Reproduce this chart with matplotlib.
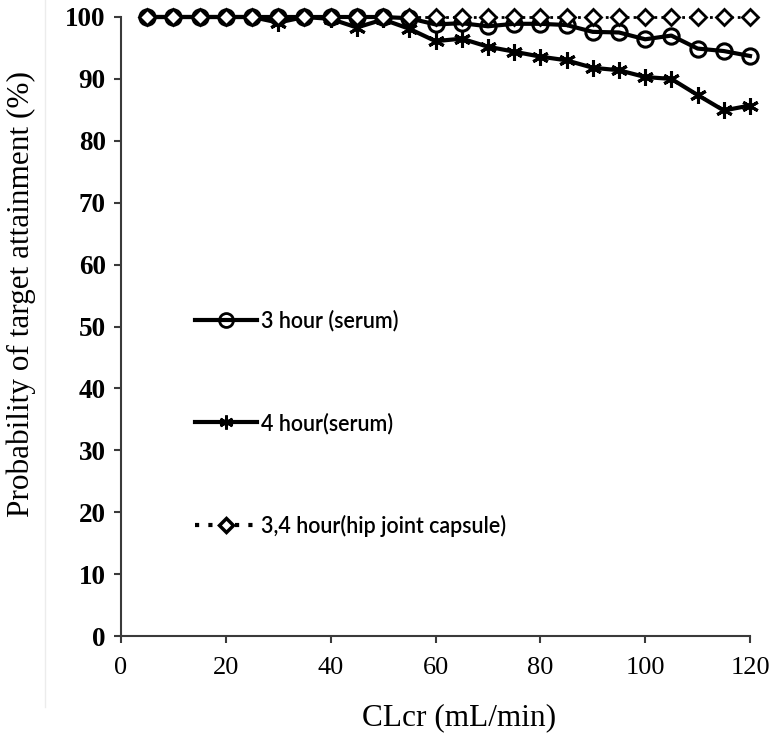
import numpy as np
import matplotlib
matplotlib.use('Agg')
import matplotlib.pyplot as plt
from matplotlib.lines import Line2D

# creatinine clearance (mL/min)
clcr = [5, 10, 15, 20, 25, 30, 35, 40, 45, 50, 55, 60,
        65, 70, 75, 80, 85, 90, 95, 100, 105, 110, 115, 120]
# probability of target attainment (%)
pta_3h_serum = [100, 100, 100, 100, 100, 100, 100, 100, 100, 100, 99.8, 98.8,
                99.0, 98.5, 98.9, 98.9, 98.7, 97.6, 97.5, 96.4, 97.0, 94.9, 94.5, 93.7]
pta_4h_serum = [100, 100, 100, 100, 100, 99.1, 100, 99.7, 98.3, 99.6, 98.1, 96.1,
                96.5, 95.2, 94.4, 93.6, 93.0, 91.8, 91.4, 90.3, 90.0, 87.4, 84.9, 85.7]
pta_hip = [100] * 24

labels = ['3 hour (serum)', '4 hour(serum)', '3,4 hour(hip joint capsule)']
xticks = [0, 20, 40, 60, 80, 100, 120]
yticks = [0, 10, 20, 30, 40, 50, 60, 70, 80, 90, 100]

fig = plt.figure(figsize=(7.71, 7.46), dpi=100)
ax = fig.add_axes([121 / 771, 1 - 636 / 746, 629 / 771, 619 / 746])

asterisk = (6, 2, 0)
ax.plot(clcr, pta_4h_serum, color='black', lw=3, marker=asterisk, ms=12, mew=2.2,
        zorder=3, clip_on=False)
ax.plot(clcr, pta_3h_serum, color='black', lw=3, marker='o', ms=11, mfc='none', mew=2.2,
        zorder=4, clip_on=False)
ax.plot(clcr, pta_hip, color='black', lw=2, ls=(0, (1, 1.5)), marker='D', ms=8,
        mfc='white', mew=2, zorder=5, clip_on=False)

ax.set_xlim(0, 120)
ax.set_ylim(0, 100)
ax.set_xticks(xticks)
ax.set_yticks(yticks)
for side in ['top', 'right']:
    ax.spines[side].set_visible(False)
for side in ['left', 'bottom']:
    ax.spines[side].set_color('#3a3a3a')
    ax.spines[side].set_linewidth(1.5)
ax.tick_params(direction='out', length=5, width=1.5, color='#3a3a3a', pad=6)
ax.tick_params(axis='x', pad=10)

serif = 'Liberation Serif'
for lab in ax.get_xticklabels():
    lab.set_fontfamily(serif)
    lab.set_fontsize(19)
for lab in ax.get_yticklabels():
    lab.set_fontfamily(serif)
    lab.set_fontsize(19.5)
    lab.set_fontweight('bold')

ax.set_xlabel('CLcr (mL/min)', fontfamily=serif, fontsize=22.5, va='center')
ax.xaxis.set_label_coords((459 - 121) / 629, (636 - 718) / 619)
ax.set_ylabel('Probability of target attainment (%)', fontfamily=serif, fontsize=22.5,
              va='center')
ax.yaxis.set_label_coords((21 - 121) / 629, (636 - 294) / 619)

handles = [
    Line2D([], [], color='black', lw=3, marker='o', ms=10, mfc='none', mew=2),
    Line2D([], [], color='black', lw=3, marker=asterisk, ms=10, mew=2),
    Line2D([], [], color='black', lw=3, ls=(0, (1, 2.2)), marker='D', ms=7, mfc='white', mew=2.5),
]
ax.legend(handles, labels, loc='upper left', bbox_to_anchor=(195 / 771, 1 - 310 / 746),
          bbox_transform=fig.transFigure, frameon=False, borderpad=0, borderaxespad=0,
          handlelength=2.9, handletextpad=0.15, labelspacing=3.75,
          prop={'family': 'Lato', 'size': 15.5, 'weight': 'semibold'})

# faint border line of the original figure panel
fig.add_artist(Line2D([45 / 771, 45 / 771], [1 - 707 / 746, 1], color='#ececec', lw=1))

fig.savefig('out.png', dpi=100)
